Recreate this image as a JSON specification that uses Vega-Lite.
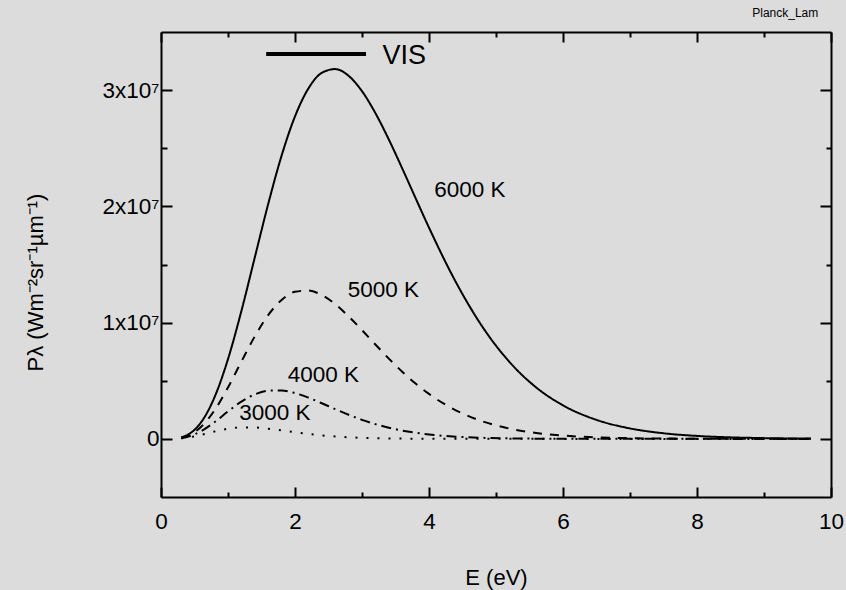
{
  "$schema": "https://vega.github.io/schema/vega-lite/v6.json",
  "width": 670,
  "height": 465,
  "autosize": {"type": "none"},
  "padding": {"left": 161, "top": 32, "right": 15, "bottom": 93},
  "background": "#dcdcdc",
  "config": {
    "view": {"stroke": null},
    "font": "Liberation Sans",
    "axis": {"grid": false, "domainColor": "black", "domainWidth": 2, "tickColor": "black", "tickWidth": 2, "labelFont": "Liberation Sans", "labelFontSize": 22.5, "labelColor": "black", "titleFont": "Liberation Sans", "titleFontSize": 22, "titleFontWeight": "normal", "titleColor": "black", "labelFlush": false, "labelOverlap": false}
  },
  "datasets": {
    "curves": [
      {"T":"6000 K","E":0.3,"P":125520},{"T":"6000 K","E":0.4,"P":356170},{"T":"6000 K","E":0.5,"P":778700},{"T":"6000 K","E":0.6,"P":1441400},{"T":"6000 K","E":0.8,"P":3599000},{"T":"6000 K","E":1.0,"P":6864000},{"T":"6000 K","E":1.2,"P":11005000},{"T":"6000 K","E":1.4,"P":15610000},{"T":"6000 K","E":1.6,"P":20208000},{"T":"6000 K","E":1.8,"P":24363000},{"T":"6000 K","E":2.0,"P":27742000},{"T":"6000 K","E":2.2,"P":30140000},{"T":"6000 K","E":2.4,"P":31484000},{"T":"6000 K","E":2.6,"P":31809000},{"T":"6000 K","E":2.8,"P":31230000},{"T":"6000 K","E":3.0,"P":29907000},{"T":"6000 K","E":3.2,"P":28022000},{"T":"6000 K","E":3.4,"P":25755000},{"T":"6000 K","E":3.6,"P":23270000},{"T":"6000 K","E":3.8,"P":20705000},{"T":"6000 K","E":4.0,"P":18171000},{"T":"6000 K","E":4.4,"P":13497000},{"T":"6000 K","E":4.8,"P":9619500},{"T":"6000 K","E":5.2,"P":6621500},{"T":"6000 K","E":5.6,"P":4424800},{"T":"6000 K","E":6.0,"P":2882100},{"T":"6000 K","E":6.5,"P":1635100},{"T":"6000 K","E":7.0,"P":900500},{"T":"6000 K","E":7.5,"P":483400},{"T":"6000 K","E":8.0,"P":253140},{"T":"6000 K","E":8.5,"P":130320},{"T":"6000 K","E":9.0,"P":65940},{"T":"6000 K","E":9.7,"P":24760},
      {"T":"5000 K","E":0.3,"P":98110},{"T":"5000 K","E":0.4,"P":271800},{"T":"5000 K","E":0.5,"P":579300},{"T":"5000 K","E":0.6,"P":1044200},{"T":"5000 K","E":0.8,"P":2463600},{"T":"5000 K","E":1.0,"P":4422500},{"T":"5000 K","E":1.2,"P":6649400},{"T":"5000 K","E":1.4,"P":8819300},{"T":"5000 K","E":1.6,"P":10650000},{"T":"5000 K","E":1.8,"P":11953900},{"T":"5000 K","E":2.0,"P":12653100},{"T":"5000 K","E":2.2,"P":12764500},{"T":"5000 K","E":2.4,"P":12370200},{"T":"5000 K","E":2.6,"P":11587200},{"T":"5000 K","E":2.8,"P":10542000},{"T":"5000 K","E":3.0,"P":9351600},{"T":"5000 K","E":3.2,"P":8115400},{"T":"5000 K","E":3.4,"P":6906700},{"T":"5000 K","E":3.6,"P":5777500},{"T":"5000 K","E":3.8,"P":4758900},{"T":"5000 K","E":4.0,"P":3865900},{"T":"5000 K","E":4.4,"P":2460600},{"T":"5000 K","E":4.8,"P":1502400},{"T":"5000 K","E":5.2,"P":886000},{"T":"5000 K","E":5.6,"P":507200},{"T":"5000 K","E":6.0,"P":283020},{"T":"5000 K","E":6.5,"P":132320},{"T":"5000 K","E":7.0,"P":59900},{"T":"5000 K","E":7.5,"P":26500},{"T":"5000 K","E":8.0,"P":11470},{"T":"5000 K","E":8.5,"P":4870},{"T":"5000 K","E":9.0,"P":2030},{"T":"5000 K","E":9.7,"P":580},
      {"T":"4000 K","E":0.3,"P":71130},{"T":"4000 K","E":0.4,"P":189810},{"T":"4000 K","E":0.5,"P":388720},{"T":"4000 K","E":0.6,"P":671850},{"T":"4000 K","E":0.8,"P":1449000},{"T":"4000 K","E":1.0,"P":2362300},{"T":"4000 K","E":1.2,"P":3208300},{"T":"4000 K","E":1.4,"P":3828100},{"T":"4000 K","E":1.6,"P":4145800},{"T":"4000 K","E":1.8,"P":4164200},{"T":"4000 K","E":2.0,"P":3938200},{"T":"4000 K","E":2.2,"P":3545600},{"T":"4000 K","E":2.4,"P":3064100},{"T":"4000 K","E":2.6,"P":2558300},{"T":"4000 K","E":2.8,"P":2073800},{"T":"4000 K","E":3.0,"P":1638900},{"T":"4000 K","E":3.2,"P":1266700},{"T":"4000 K","E":3.4,"P":960070},{"T":"4000 K","E":3.6,"P":715180},{"T":"4000 K","E":3.8,"P":524600},{"T":"4000 K","E":4.0,"P":379540},{"T":"4000 K","E":4.4,"P":191510},{"T":"4000 K","E":4.8,"P":92740},{"T":"4000 K","E":5.2,"P":43360},{"T":"4000 K","E":5.6,"P":19630},{"T":"4000 K","E":6.0,"P":8683},{"T":"4000 K","E":6.5,"P":3037},{"T":"4000 K","E":7.0,"P":1031},{"T":"4000 K","E":7.5,"P":341},{"T":"4000 K","E":8.0,"P":110},{"T":"4000 K","E":8.5,"P":35},{"T":"4000 K","E":9.0,"P":11},{"T":"4000 K","E":9.7,"P":2},
      {"T":"3000 K","E":0.3,"P":45045},{"T":"3000 K","E":0.4,"P":112460},{"T":"3000 K","E":0.5,"P":214510},{"T":"3000 K","E":0.6,"P":343890},{"T":"3000 K","E":0.8,"P":631490},{"T":"3000 K","E":1.0,"P":866930},{"T":"3000 K","E":1.2,"P":983900},{"T":"3000 K","E":1.4,"P":975940},{"T":"3000 K","E":1.6,"P":875680},{"T":"3000 K","E":1.8,"P":727180},{"T":"3000 K","E":2.0,"P":567840},{"T":"3000 K","E":2.2,"P":421810},{"T":"3000 K","E":2.4,"P":300630},{"T":"3000 K","E":2.6,"P":206930},{"T":"3000 K","E":2.8,"P":138270},{"T":"3000 K","E":3.0,"P":90070},{"T":"3000 K","E":3.2,"P":57380},{"T":"3000 K","E":3.4,"P":35840},{"T":"3000 K","E":3.6,"P":22007},{"T":"3000 K","E":3.8,"P":13303},{"T":"3000 K","E":4.0,"P":7911},{"T":"3000 K","E":4.4,"P":2719},{"T":"3000 K","E":4.8,"P":892},{"T":"3000 K","E":5.2,"P":282},{"T":"3000 K","E":5.6,"P":87},{"T":"3000 K","E":6.0,"P":26},{"T":"3000 K","E":6.5,"P":5},{"T":"3000 K","E":7.0,"P":1},{"T":"3000 K","E":7.5,"P":0},{"T":"3000 K","E":8.0,"P":0},{"T":"3000 K","E":8.5,"P":0},{"T":"3000 K","E":9.0,"P":0},{"T":"3000 K","E":9.7,"P":0}
    ],
    "vis": [{"E1": 1.57, "E2": 3.06, "P": 33100000}],
    "vislabel": [{"label": "VIS", "E": 3.63, "P": 32900000}],
    "tag": [{"label": "Planck_Lam", "E": 9.81, "P": 36280000}],
    "labels": [
      {"label": "6000 K", "E": 4.61, "P": 21450000},
      {"label": "5000 K", "E": 3.32, "P": 12770000},
      {"label": "4000 K", "E": 2.425, "P": 5500000},
      {"label": "3000 K", "E": 1.70, "P": 2190000}
    ]
  },
  "layer": [
    {
      "data": {"name": "curves"},
      "mark": {"type": "line", "interpolate": "monotone", "color": "black", "strokeWidth": 2, "clip": true},
      "encoding": {
        "x": {"field": "E", "type": "quantitative", "scale": {"domain": [0, 10], "nice": false, "zero": false},
          "axis": {"orient": "bottom", "values": [0, 2, 4, 6, 8, 10], "tickSize": -10, "labelPadding": 23, "labelBaseline": "top", "title": "E (eV)", "titleY": 87, "titleBaseline": "alphabetic"}},
        "y": {"field": "P", "type": "quantitative", "scale": {"domain": [-5000000, 35000000], "nice": false, "zero": false},
          "axis": {"orient": "left", "values": [0, 10000000, 20000000, 30000000], "tickSize": -11, "labelPadding": 13, "labelExpr": "datum.value == 0 ? '0' : format(datum.value / 10000000, 'd') + 'x10\u2077'", "title": "P\u03bb (Wm\u207b\u00b2sr\u207b\u00b9\u00b5m\u207b\u00b9)", "titleX": -119, "titleY": 250, "titleBaseline": "alphabetic", "titleAngle": 270}},
        "strokeDash": {"field": "T", "type": "nominal", "scale": {"domain": ["6000 K", "5000 K", "4000 K", "3000 K"], "range": [[1, 0], [9, 8], [10, 5, 2, 5], [2, 9]]}, "legend": null}
      }
    },
    {
      "data": {"name": "vis"},
      "mark": {"type": "rule", "color": "black", "strokeWidth": 4},
      "encoding": {
        "x": {"field": "E1", "type": "quantitative", "scale": {"domain": [0, 10], "nice": false, "zero": false},
          "axis": {"orient": "bottom", "values": [1, 3, 5, 7, 9], "tickSize": -5, "labels": false, "domain": false, "title": null}},
        "x2": {"field": "E2"},
        "y": {"field": "P", "type": "quantitative", "scale": {"domain": [-5000000, 35000000], "nice": false, "zero": false},
          "axis": {"orient": "left", "values": [5000000, 15000000, 25000000], "tickSize": -6, "labels": false, "domain": false, "title": null}}
      }
    },
    {
      "data": {"name": "vislabel"},
      "mark": {"type": "text", "fontSize": 27, "font": "Liberation Sans", "color": "black", "align": "center", "baseline": "middle"},
      "encoding": {
        "x": {"field": "E", "type": "quantitative", "scale": {"domain": [0, 10], "nice": false, "zero": false},
          "axis": {"orient": "top", "values": [0, 2, 4, 6, 8, 10], "tickSize": -10, "labels": false, "title": null}},
        "y": {"field": "P", "type": "quantitative", "scale": {"domain": [-5000000, 35000000], "nice": false, "zero": false},
          "axis": {"orient": "right", "values": [0, 10000000, 20000000, 30000000], "tickSize": -11, "labels": false, "title": null}},
        "text": {"field": "label"}
      }
    },
    {
      "data": {"name": "labels"},
      "mark": {"type": "text", "fontSize": 22.5, "font": "Liberation Sans", "color": "black", "align": "center", "baseline": "middle"},
      "encoding": {
        "x": {"field": "E", "type": "quantitative", "scale": {"domain": [0, 10], "nice": false, "zero": false},
          "axis": {"orient": "top", "values": [1, 3, 5, 7, 9], "tickSize": -5, "labels": false, "domain": false, "title": null}},
        "y": {"field": "P", "type": "quantitative", "scale": {"domain": [-5000000, 35000000], "nice": false, "zero": false},
          "axis": {"orient": "right", "values": [5000000, 15000000, 25000000], "tickSize": -5, "labels": false, "domain": false, "title": null}},
        "text": {"field": "label"}
      }
    },
    {
      "data": {"name": "tag"},
      "mark": {"type": "text", "fontSize": 12, "font": "Liberation Sans", "color": "black", "align": "right", "baseline": "alphabetic"},
      "encoding": {
        "x": {"field": "E", "type": "quantitative", "scale": {"domain": [0, 10], "nice": false, "zero": false}, "axis": null},
        "y": {"field": "P", "type": "quantitative", "scale": {"domain": [-5000000, 35000000], "nice": false, "zero": false}, "axis": null},
        "text": {"field": "label"}
      }
    }
  ],
  "resolve": {"axis": {"x": "independent", "y": "independent"}}
}
